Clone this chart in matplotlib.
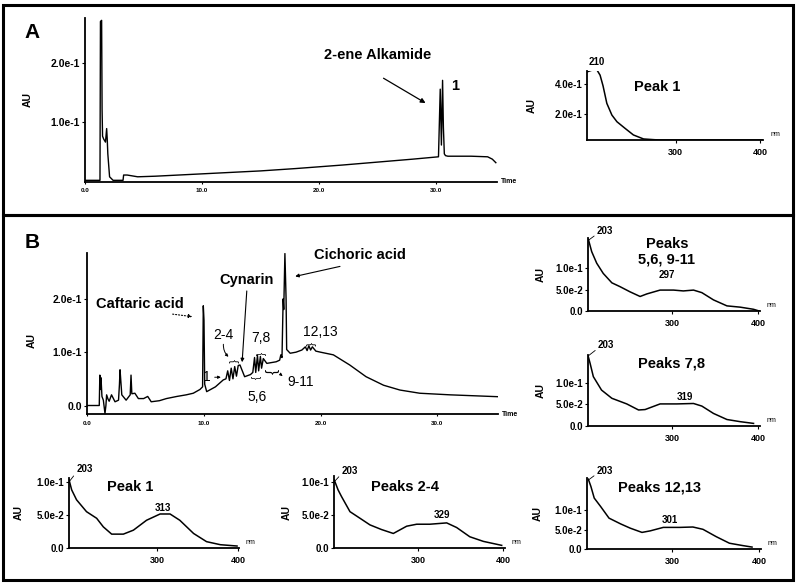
import matplotlib.pyplot as plt
from matplotlib.patches import Rectangle

plt.rcParams['font.family'] = ['Liberation Sans', 'DejaVu Sans']

# ---- chromatogram A (time in min, absorbance AU) ----
time_a = [0, 1.28, 1.32, 1.42, 1.46, 1.5, 1.6, 1.75, 1.85, 1.9, 1.95, 2.1, 2.4,
          3.25, 3.3, 3.6, 4.5, 6, 8, 10, 12, 15, 18, 20, 22, 25, 28, 30.2,
          30.35, 30.45, 30.55, 30.62, 30.7, 30.8, 31.0, 33, 34.4, 34.8, 35.1]
au_a = [0, 0, 0.27, 0.272, 0.12, 0.075, 0.07, 0.065, 0.088, 0.07, 0.045, 0.006, 0,
        0, 0.009, 0.009, 0.006, 0.007, 0.009, 0.011, 0.013, 0.016, 0.02, 0.023, 0.026,
        0.031, 0.036, 0.04, 0.155, 0.06, 0.17, 0.09, 0.045, 0.042, 0.041, 0.041,
        0.040, 0.036, 0.03]

# ---- chromatogram B ----
time_b = [0, 1.05, 1.1, 1.15, 1.2, 1.28, 1.4, 1.54, 1.62, 1.68, 1.8, 1.9, 2.1, 2.4,
          2.7, 2.78, 2.83, 2.9, 2.98, 3.35, 3.7, 3.77, 3.84, 4.1, 4.4, 4.85, 5.2, 5.5,
          6.2, 6.8, 7.7, 8.5, 9.1, 9.67, 9.9, 9.96, 10.02, 10.08, 10.25, 11.0, 11.67,
          11.9, 12.05, 12.2, 12.35, 12.5, 12.65, 12.8, 12.95, 13.1, 13.5, 14.0, 14.2,
          14.35, 14.45, 14.6, 14.7, 14.85, 14.95, 15.1, 15.4, 16.2, 16.5, 16.6, 16.7,
          16.8, 16.85, 16.95, 17.05, 17.1, 17.4, 17.9, 18.4, 18.7, 18.85, 19.0, 19.15,
          19.3, 19.6, 20.0, 21.1, 22.5, 23.9, 25.4, 26.8, 28.5, 31.1, 35.2]
au_b = [0, 0, 0.057, 0.03, 0.052, 0.017, 0.01, -0.015, 0.0, 0.02, 0.012, 0.008, 0.02,
        0.007, 0.01, 0.04, 0.067, 0.045, 0.02, 0.01, 0.02, 0.057, 0.022, 0.023, 0.013,
        0.013, 0.017, 0.007, 0.009, 0.013, 0.017, 0.02, 0.023, 0.03, 0.035, 0.187,
        0.16, 0.04, 0.026, 0.035, 0.048,
        0.05, 0.065, 0.047, 0.07, 0.05, 0.073, 0.055, 0.075, 0.076, 0.054, 0.058, 0.062,
        0.09, 0.062, 0.094, 0.065, 0.092, 0.07, 0.088, 0.079, 0.082, 0.085, 0.095, 0.09,
        0.2, 0.18, 0.285, 0.2, 0.105, 0.098, 0.1, 0.104, 0.11, 0.103, 0.112, 0.104,
        0.11, 0.102, 0.1, 0.095, 0.076, 0.054, 0.038, 0.029, 0.023, 0.02, 0.0165]

# ---- UV spectra (wavelength nm, AU) ----
wl_a1 = [195.5, 200, 204, 207, 210.5, 214, 218.5, 224.5, 230.5, 240, 250, 262, 275,
         282, 300, 350, 403]
au_a1 = [0.485, 0.494, 0.498, 0.495, 0.462, 0.39, 0.272, 0.193, 0.148, 0.104, 0.059,
         0.032, 0.027, 0.025, 0.025, 0.025, 0.025]

wl_p5 = [202.7, 206.6, 212.4, 220, 230, 239.5, 251, 262.8, 270.6, 286, 301.6, 313,
         324.8, 334.5, 348, 363.6, 379, 394.5, 401]
au_p5 = [0.168, 0.139, 0.112, 0.088, 0.066, 0.057, 0.045, 0.034, 0.04, 0.049, 0.049,
         0.047, 0.049, 0.043, 0.026, 0.012, 0.009, 0.004, 0.0]

wl_p7 = [202.4, 204.7, 208.5, 218, 230, 247.3, 261, 268.6, 286, 305.4, 324.8, 334.5,
         348, 363.6, 379, 394.5]
au_p7 = [0.162, 0.145, 0.114, 0.083, 0.064, 0.051, 0.037, 0.038, 0.051, 0.051, 0.052,
         0.046, 0.029, 0.015, 0.01, 0.006]

wl_p1 = [191.5, 194.7, 200.7, 213, 225.5, 233.7, 244, 258.4, 270.8, 287, 303.7, 316,
         328, 345, 361, 378, 398.6]
au_p1 = [0.103, 0.088, 0.073, 0.055, 0.045, 0.032, 0.021, 0.021, 0.027, 0.042, 0.0515,
         0.0515, 0.042, 0.022, 0.0096, 0.005, 0.003]

wl_p2 = [201.5, 206, 210, 220, 231.8, 243.5, 257, 271, 286.7, 298.5, 314, 333.8, 345.5,
         361, 377, 398.5]
au_p2 = [0.103, 0.088, 0.078, 0.055, 0.045, 0.035, 0.028, 0.022, 0.033, 0.036, 0.036,
         0.038, 0.031, 0.017, 0.01, 0.004]

wl_p12 = [203.8, 206.8, 210.6, 218, 227.6, 241, 252, 265.5, 275, 290, 309, 324, 335.6,
          350.8, 366, 381, 392]
au_p12 = [0.181, 0.162, 0.132, 0.11, 0.08, 0.065, 0.054, 0.043, 0.047, 0.056, 0.056,
          0.057, 0.051, 0.032, 0.015, 0.009, 0.005]

W, H = 800, 587


def box(l, t, r, b):
    return [l / W, 1 - b / H, (r - l) / W, (b - t) / H]


def fpos(x, y):
    return x / W, 1 - y / H


fig = plt.figure(figsize=(8, 5.87), dpi=100)

# panel frames
for top, bot in [(5, 215), (215, 580)]:
    fig.add_artist(Rectangle((3 / W, 1 - bot / H), 790 / W, (bot - top) / H,
                             transform=fig.transFigure, fill=False, lw=2.2, ec='black'))


def style(ax):
    for s in ['top', 'right']:
        ax.spines[s].set_visible(False)
    for s in ['left', 'bottom']:
        ax.spines[s].set_linewidth(1.3)
    ax.patch.set_alpha(0)


def chromatogram(rect, t, au, ylim, yticks, ylabels, ylab_xy):
    ax = fig.add_axes(rect)
    ax.plot(t, au, color='black', lw=1.0)
    ax.set_xlim(0, 35.2)
    ax.set_ylim(*ylim)
    ax.set_xticks([0, 10, 20, 30])
    ax.set_xticklabels(['0.0', '10.0', '20.0', '30.0'], fontsize=4.5, fontweight='bold')
    ax.set_yticks(yticks)
    ax.set_yticklabels(ylabels, fontsize=7.5, fontweight='bold')
    ax.tick_params(axis='x', length=1.5, width=0.8, pad=3)
    ax.tick_params(axis='y', length=2.5, width=0.8, pad=1)
    ax.set_ylabel('AU', fontsize=7.5, fontweight='bold')
    ax.yaxis.set_label_coords(*ylab_xy)
    ax.text(1.01, 0, 'Time', transform=ax.transAxes, fontsize=5, fontweight='bold',
            va='center', ha='left')
    style(ax)
    return ax


def spectrum(rect, wl, au, xlim, ylim, yticks, ylabels, ylab_x):
    ax = fig.add_axes(rect)
    ax.plot(wl, au, color='black', lw=1.1)
    ax.set_xlim(*xlim)
    ax.set_ylim(*ylim)
    ax.set_xticks([300, 400])
    ax.set_xticklabels(['300', '400'], fontsize=6.5, fontweight='bold')
    ax.set_yticks(yticks)
    ax.set_yticklabels(ylabels, fontsize=7, fontweight='bold')
    ax.tick_params(axis='x', length=2, width=0.8, pad=3.5)
    ax.tick_params(axis='y', length=2.5, width=0.8, pad=1)
    ax.set_ylabel('AU', fontsize=7.5, fontweight='bold')
    ax.yaxis.set_label_coords(ylab_x, 0.5)
    ax.text(1.04, 0.03, 'nm', transform=ax.transAxes, fontsize=5, va='bottom', ha='left')
    style(ax)
    return ax


def peak_label(ax, x, y, dx, dy, text):
    ax.annotate(text, xy=(x, y), xytext=(dx, dy), textcoords='offset points',
                fontsize=7, fontweight='bold', ha='left', va='bottom',
                annotation_clip=False,
                arrowprops=dict(arrowstyle='-', lw=0.6, shrinkA=0, shrinkB=0,
                                relpos=(0, 0.2)))


# ---------------- panel A ----------------
fig.text(*fpos(32, 32), 'A', fontsize=15, fontweight='bold', ha='center', va='center')
axA = chromatogram(box(85, 18, 497, 181.5), time_a, au_a, (-0.002, 0.276),
                   [0.1, 0.2], ['1.0e-1', '2.0e-1'], (-0.127, 0.5))
axA.annotate('', xy=(29.3, 0.129), xytext=(25.3, 0.176),
             arrowprops=dict(arrowstyle='-|>', lw=0.9, color='black', mutation_scale=7))
fig.text(*fpos(378, 55), '2-ene Alkamide', fontsize=10.5, fontweight='bold',
         ha='center', va='center')
fig.text(*fpos(455, 86), '1', fontsize=10.5, fontweight='bold', ha='center', va='center')

axA1 = spectrum(box(587, 71, 763, 140), wl_a1, au_a1, (195, 403.6), (0.025, 0.49),
                [0.2, 0.4], ['2.0e-1', '4.0e-1'], -0.287)
axA1.text(207, 0.55, '210', fontsize=7, fontweight='bold', ha='center', va='center')
fig.text(*fpos(657, 87), 'Peak 1', fontsize=10.5, fontweight='bold', ha='center',
         va='center')

# ---------------- panel B ----------------
fig.text(*fpos(32, 243), 'B', fontsize=15, fontweight='bold', ha='center', va='center')
axB = chromatogram(box(87, 253, 498, 414.3), time_b, au_b, (-0.0165, 0.286),
                   [0, 0.1, 0.2], ['0.0', '1.0e-1', '2.0e-1'], (-0.122, 0.46))

axB.text(23.4, 0.282, 'Cichoric acid', fontsize=10.5, fontweight='bold',
         ha='center', va='center')
axB.annotate('', xy=(17.6, 0.241), xytext=(21.9, 0.262),
             arrowprops=dict(arrowstyle='-|>', lw=0.8, color='black', mutation_scale=5))
axB.text(13.7, 0.235, 'Cynarin', fontsize=10.5, fontweight='bold', ha='center',
         va='center')
axB.annotate('', xy=(13.27, 0.076), xytext=(13.7, 0.22),
             arrowprops=dict(arrowstyle='-|>', lw=0.8, color='black', mutation_scale=5))
axB.text(4.54, 0.19, 'Caftaric acid', fontsize=10.5, fontweight='bold', ha='center',
         va='center')
axB.annotate('', xy=(9.25, 0.166), xytext=(7.1, 0.172),
             arrowprops=dict(arrowstyle='-|>', lw=0.8, ls=':', color='black',
                             mutation_scale=5))
axB.text(11.64, 0.132, '2-4', fontsize=10, ha='center', va='center')
axB.annotate('', xy=(12.3, 0.088), xytext=(11.7, 0.12),
             arrowprops=dict(arrowstyle='-|>', lw=0.7, color='black', mutation_scale=4,
                             connectionstyle='arc3,rad=0.3'))
axB.text(14.9, 0.127, '7,8', fontsize=10, ha='center', va='center')
axB.text(19.95, 0.138, '12,13', fontsize=10, ha='center', va='center')
axB.text(10.3, 0.053, '1', fontsize=10, ha='center', va='center')
axB.annotate('', xy=(11.7, 0.053), xytext=(10.7, 0.053),
             arrowprops=dict(arrowstyle='-|>', lw=0.7, color='black', mutation_scale=4))
axB.text(18.3, 0.044, '9-11', fontsize=10, ha='center', va='center')
axB.annotate('', xy=(16.95, 0.052), xytext=(16.4, 0.061),
             arrowprops=dict(arrowstyle='-|>', lw=0.7, ls='--', color='black',
                             mutation_scale=4))
axB.text(14.6, 0.016, '5,6', fontsize=10, ha='center', va='center')
# curly braces grouping peaks
for bx, by, rot, fs in [(12.5, 0.083, -90, 8), (14.8, 0.098, -90, 7),
                        (19.1, 0.116, -90, 8), (14.55, 0.052, 90, 7),
                        (15.9, 0.064, 90, 11)]:
    axB.text(bx, by, '{', rotation=rot, fontsize=fs, ha='center', va='center')

# spectra in panel B
axP5 = spectrum(box(588, 238, 760, 311), wl_p5, au_p5, (202.3, 402), (0, 0.171),
                [0, 0.05, 0.1], ['0.0', '5.0e-2', '1.0e-1'], -0.247)
peak_label(axP5, 203, 0.166, 6, 3, '203')
axP5.text(294, 0.085, '297', fontsize=7, fontweight='bold', ha='center', va='center')
fig.text(*fpos(667, 252), 'Peaks\n5,6, 9-11', fontsize=10.5, fontweight='bold',
         ha='center', va='center', linespacing=1.1)

axP7 = spectrum(box(588, 355, 760, 426), wl_p7, au_p7, (202.3, 402), (0, 0.164),
                [0, 0.05, 0.1], ['0.0', '5.0e-2', '1.0e-1'], -0.247)
peak_label(axP7, 202.6, 0.162, 7, 4, '203')
axP7.text(315, 0.067, '319', fontsize=7, fontweight='bold', ha='center', va='center')
fig.text(*fpos(672, 363), 'Peaks 7,8', fontsize=10.5, fontweight='bold', ha='center',
         va='center')

axP1 = spectrum(box(69, 478, 239, 548), wl_p1, au_p1, (191.4, 401), (0, 0.106),
                [0, 0.05, 0.1], ['0.0', '5.0e-2', '1.0e-1'], -0.265)
peak_label(axP1, 192, 0.101, 5, 5, '203')
axP1.text(307.4, 0.061, '313', fontsize=7, fontweight='bold', ha='center', va='center')
fig.text(*fpos(130, 487), 'Peak 1', fontsize=10.5, fontweight='bold', ha='center',
         va='center')

axP2 = spectrum(box(334, 476, 505, 548), wl_p2, au_p2, (201.2, 402.4), (0, 0.109),
                [0, 0.05, 0.1], ['0.0', '5.0e-2', '1.0e-1'], -0.245)
peak_label(axP2, 202, 0.101, 5, 4, '203')
axP2.text(328, 0.05, '329', fontsize=7, fontweight='bold', ha='center', va='center')
fig.text(*fpos(405, 487), 'Peaks 2-4', fontsize=10.5, fontweight='bold', ha='center',
         va='center')

axP12 = spectrum(box(587, 478, 761, 549), wl_p12, au_p12, (202.3, 402.3), (0, 0.184),
                 [0, 0.05, 0.1], ['0.0', '5.0e-2', '1.0e-1'], -0.257)
peak_label(axP12, 204, 0.179, 6, 3, '203')
axP12.text(297.7, 0.075, '301', fontsize=7, fontweight='bold', ha='center', va='center')
fig.text(*fpos(660, 487), 'Peaks 12,13', fontsize=10.5, fontweight='bold', ha='center',
         va='center')

fig.savefig('out.png', dpi=100)
